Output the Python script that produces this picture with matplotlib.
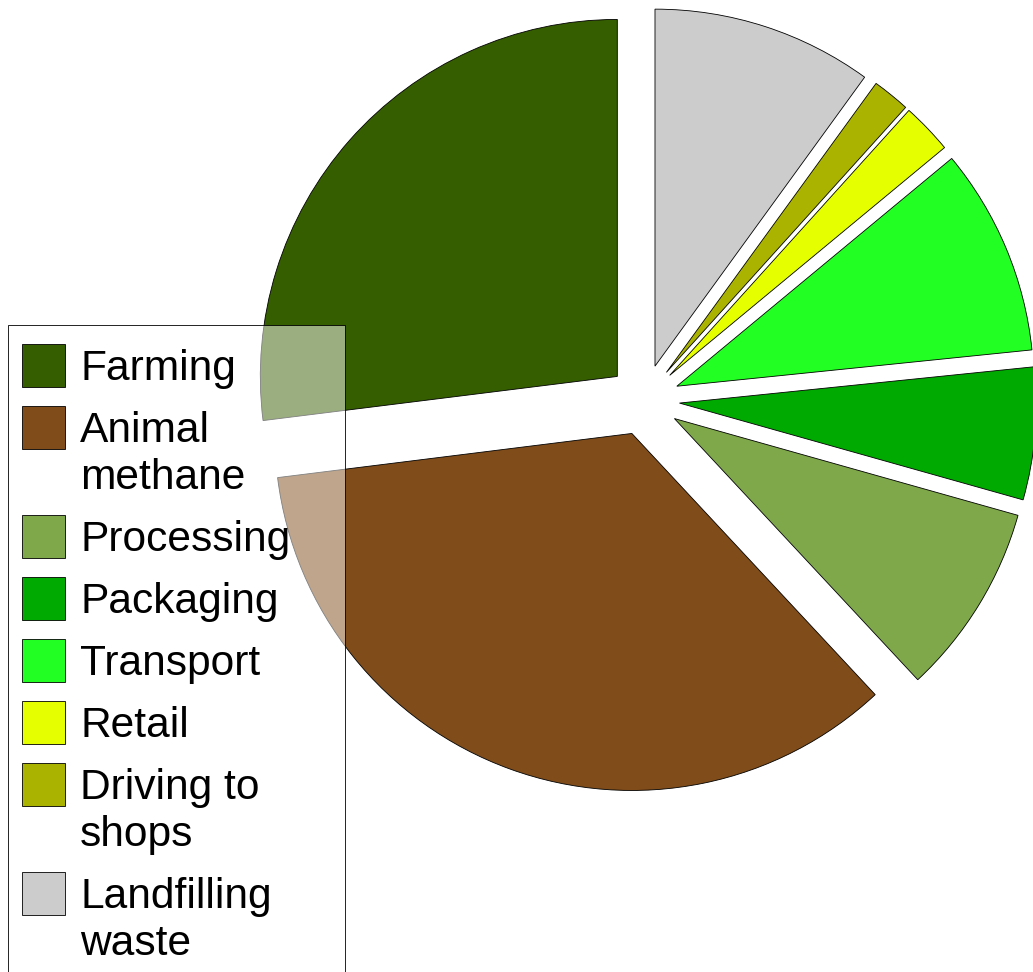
import matplotlib.pyplot as plt
from matplotlib.patches import Rectangle

# Share of food-chain emissions, in percent
labels = ['Farming', 'Animal\nmethane', 'Processing', 'Packaging', 'Transport',
          'Retail', 'Driving to\nshops', 'Landfilling\nwaste']
shares = [27.0, 35.0, 8.7, 6.0, 9.4, 2.3, 1.7, 10.0]
colors = ['#355e00', '#7f4c1a', '#7ea84a', '#00aa00', '#22ff22',
          '#e6ff00', '#aab400', '#cccccc']

W, H = 1033, 972
fig = plt.figure(figsize=(W / 100, H / 100), dpi=100)
plt.rcParams['font.family'] = ['Liberation Sans', 'DejaVu Sans']

# pie axes work in pixel units (y up)
ax = fig.add_axes([0, 0, 1, 1])
ax.pie(shares, colors=colors, startangle=90, counterclock=True,
       radius=357, center=(644, H - 400), explode=[35.6] * len(shares),
       wedgeprops=dict(edgecolor='black', linewidth=0.6), frame=True)
ax.set_xlim(0, W)
ax.set_ylim(0, H)
ax.axis('off')

# legend drawn on its own overlay, y pointing down
lax = fig.add_axes([0, 0, 1, 1], zorder=3)
lax.set_xlim(0, W)
lax.set_ylim(H, 0)
lax.axis('off')
lax.add_patch(Rectangle((8, 325), 337, 700, facecolor=(1, 1, 1, 0.5),
                        edgecolor='black', linewidth=0.6))

top = 344
for lab, col in zip(labels, colors):
    lax.add_patch(Rectangle((22, top), 43, 43, facecolor=col,
                            edgecolor='black', linewidth=0.6))
    lines = lab.split('\n')
    for i, line in enumerate(lines):
        lax.text(80, top + 36 + i * 47, line, fontsize=30.6,
                 va='baseline', ha='left', color='black')
    top += 62 + 47 * (len(lines) - 1)

fig.savefig('out.png', dpi=100)
